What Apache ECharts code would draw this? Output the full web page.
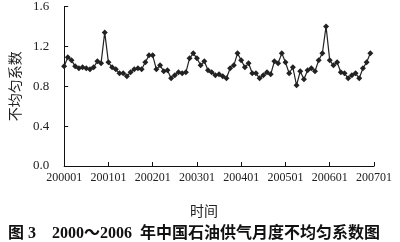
<!DOCTYPE html>
<html>
<head>
<meta charset="utf-8">
<script src="https://cdn.jsdelivr.net/npm/echarts@6/dist/echarts.min.js"></script>
<style>html,body{margin:0;padding:0;background:#fff;}#c{width:400px;height:242px;}</style>
</head>
<body>
<div id="c"></div>
<script>
var years = ['2000','2001','2002','2003','2004','2005','2006'];
var monthCodes = ['01','02','03','04','05','06','07','08','09','10','11','12'];
var endCategory = '200701';
var yTicks = [0.0, 0.4, 0.8, 1.2, 1.6];
var coef2000 = [1.00, 1.09, 1.06, 1.00, 0.98, 0.99, 0.98, 0.97, 0.99, 1.05, 1.03, 1.34];
var coef2001 = [1.04, 0.99, 0.97, 0.93, 0.93, 0.90, 0.94, 0.97, 0.98, 0.97, 1.04, 1.11];
var coef2002 = [1.11, 0.97, 1.01, 0.95, 0.96, 0.88, 0.91, 0.94, 0.93, 0.94, 1.08, 1.13];
var coef2003 = [1.08, 1.01, 1.05, 0.96, 0.94, 0.91, 0.92, 0.90, 0.88, 0.98, 1.01, 1.13];
var coef2004 = [1.06, 0.99, 1.03, 0.93, 0.93, 0.88, 0.91, 0.94, 0.92, 1.05, 1.03, 1.13];
var coef2005 = [1.04, 0.93, 0.99, 0.81, 0.95, 0.87, 0.96, 0.98, 0.95, 1.06, 1.13, 1.40];
var coef2006 = [1.06, 1.01, 1.04, 0.94, 0.93, 0.88, 0.91, 0.93, 0.88, 0.98, 1.04, 1.13];

var categories = [];
years.forEach(function (y) { monthCodes.forEach(function (m) { categories.push(y + m); }); });
categories.push(endCategory);
var values = [].concat(coef2000, coef2001, coef2002, coef2003, coef2004, coef2005, coef2006);
values.push(null);

var serif = "'Liberation Serif', 'Noto Sans CJK SC', serif";
var chart = echarts.init(document.getElementById('c'), null, {renderer: 'canvas'});
chart.setOption({
  animation: false,
  backgroundColor: '#fff',
  grid: {left: 61, right: 26, top: 6, bottom: 76, containLabel: false},
  xAxis: {
    type: 'category',
    data: categories,
    boundaryGap: false,
    name: '时间',
    nameLocation: 'middle',
    nameGap: 38,
    nameTextStyle: {fontFamily: "'Noto Sans CJK SC'", fontSize: 14, color: '#222', padding: [0, 30, 0, 0]},
    axisLine: {lineStyle: {color: '#111', width: 1}},
    axisTick: {inside: true, length: 4, interval: 11, lineStyle: {color: '#111'}},
    axisLabel: {interval: 11, fontFamily: serif, fontSize: 12, color: '#222', margin: 6},
    splitLine: {show: false}
  },
  yAxis: {
    type: 'value',
    min: yTicks[0],
    max: yTicks[yTicks.length - 1],
    interval: 0.4,
    name: '不均匀系数',
    nameLocation: 'middle',
    nameGap: 32,
    nameTextStyle: {fontFamily: "'Noto Sans CJK SC'", fontSize: 14, color: '#222'},
    axisLine: {show: true, lineStyle: {color: '#111', width: 1}},
    axisTick: {show: true, inside: true, length: 4, lineStyle: {color: '#111'}},
    axisLabel: {fontFamily: serif, fontSize: 13, color: '#222', margin: 15,
      formatter: function (v) { return v.toFixed(1); }},
    splitLine: {show: false}
  },
  title: [{
    text: '图 3    2000～2006  年中国石油供气月度不均匀系数图',
    left: 3, top: 221,
    textStyle: {fontFamily: serif, fontSize: 16, fontWeight: 'bold', color: '#111'}
  }],
  series: [{
    type: 'line',
    data: values,
    symbol: 'diamond',
    symbolSize: 6,
    showSymbol: true,
    showAllSymbol: true,
    lineStyle: {color: '#222', width: 1.2},
    itemStyle: {color: '#222'}
  }]
});
</script>
</body>
</html>
